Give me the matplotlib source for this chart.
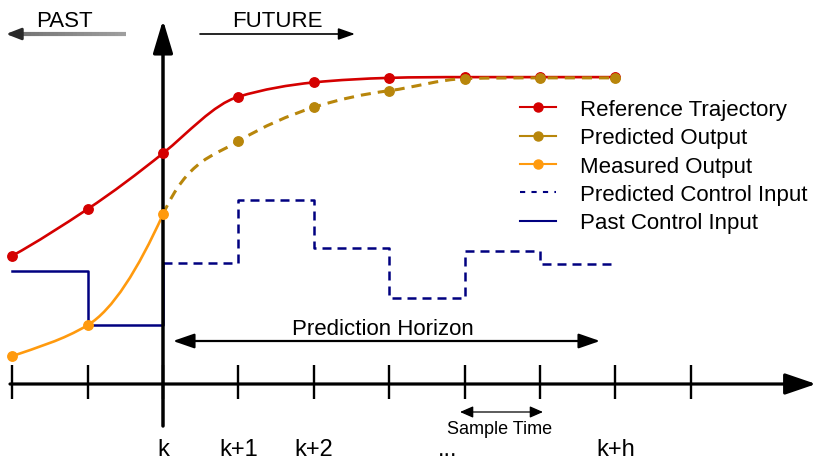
import numpy as np
import matplotlib
matplotlib.use('Agg')
import matplotlib.pyplot as plt
from matplotlib.path import Path
from matplotlib.patches import PathPatch
from matplotlib.lines import Line2D
from matplotlib.collections import LineCollection

plt.rcParams['font.family'] = ['Liberation Sans', 'DejaVu Sans']

# Data (x in sample steps relative to k, y in arbitrary output units)
steps = np.arange(-2, 8)
tick_labels = ['k', 'k+1', 'k+2', '...', 'k+h']
tick_label_pos = [0, 1, 2, 3.77, 6]

ref_t = [-2, -1, 0, 1, 2, 3, 4, 5, 6]
ref_y = [1.70, 2.32, 3.06, 3.81, 4.00, 4.06, 4.07, 4.07, 4.07]
ref_slope = [0.55, 0.66, 0.80, 0.30, 0.10, 0.03, 0.0, 0.0, 0.0]

meas_t = [-2, -1, 0]
meas_y = [0.37, 0.78, 2.25]
meas_slope = [0.35, 0.60, 2.2]

pred_t = [1, 2, 3, 4, 5, 6]
pred_y = [3.22, 3.67, 3.89, 4.05, 4.06, 4.06]
pred_slope = [0.60, 0.32, 0.13, 0.03, 0.0, 0.0]

past_u_t = [-2, -1, 0]
past_u = [1.50, 0.78, 1.60]

pred_u_t = [0, 1, 2, 3, 4, 5, 6]
pred_u = [1.60, 2.44, 1.80, 1.14, 1.76, 1.59, 1.59]

RED = '#d40000'
BROWN = '#b8860b'
ORANGE = '#ff9a0e'
NAVY = '#000080'

# pixel helpers for the diagram annotations
X0, Y0, S = 163, 385, 75.4
def px(x):
    return (x - X0) / S
def py(y):
    return (Y0 - y) / S


def hermite_path(xs, ys, slopes):
    # cubic bezier through the points with the given tangent slopes
    verts = [(xs[0], ys[0])]
    codes = [Path.MOVETO]
    for i in range(len(xs) - 1):
        d = (xs[i + 1] - xs[i]) / 3
        verts += [(xs[i] + d, ys[i] + d * slopes[i]),
                  (xs[i + 1] - d, ys[i + 1] - d * slopes[i + 1]),
                  (xs[i + 1], ys[i + 1])]
        codes += [Path.CURVE4] * 3
    return Path(verts, codes)


fig = plt.figure(figsize=(8.16, 4.6), dpi=100)
ax = fig.add_axes([0, 0, 1, 1])
ax.set_xlim(px(0), px(816))
ax.set_ylim(py(460), py(0))
ax.axis('off')


def arrow(x0, y0, x1, y1, lw, hl, hw, color='black', style='-|>'):
    ax.annotate('', xy=(x1, y1), xytext=(x0, y0), annotation_clip=False,
                arrowprops=dict(arrowstyle=f'{style},head_length={hl},head_width={hw}',
                                lw=lw, color=color, shrinkA=0, shrinkB=0,
                                mutation_scale=1), zorder=5)


# time axis and value axis
arrow(px(10), 0, px(816), 0, 2.3, 19, 6.5)
arrow(0, py(427), 0, py(21), 2.5, 20, 6)
ax.vlines(steps, py(400), py(366), color='black', lw=1.7, zorder=5)

for pos, lab in zip(tick_label_pos, tick_labels):
    ax.text(pos, py(456), lab, ha='center', va='baseline', fontsize=17)

# control inputs
ax.step(past_u_t, past_u, where='post', color=NAVY, lw=1.8, zorder=3)
ax.step(pred_u_t, pred_u, where='post', color=NAVY, lw=1.8, dashes=(3.6, 2.4), zorder=3)

# reference trajectory
ax.add_patch(PathPatch(hermite_path(ref_t, ref_y, ref_slope), fill=False,
                       edgecolor=RED, lw=1.9, zorder=4))
ax.plot(ref_t, ref_y, 'o', color=RED, ms=6.8, zorder=6)

# measured output, then predicted output continuing from k
ax.add_patch(PathPatch(hermite_path(meas_t, meas_y, meas_slope), fill=False,
                       edgecolor=ORANGE, lw=1.9, zorder=4))
ax.add_patch(PathPatch(hermite_path(meas_t[-1:] + pred_t, meas_y[-1:] + pred_y,
                                    meas_slope[-1:] + pred_slope),
                       fill=False, edgecolor=BROWN, lw=2.2, ls=(0, (3.3, 2.3)), zorder=4))
ax.plot(pred_t, pred_y, 'o', color=BROWN, ms=6.8, zorder=7)
ax.plot(meas_t, meas_y, 'o', color=ORANGE, ms=6.8, zorder=7)

# PAST / FUTURE
xs = np.linspace(px(126), px(16), 30)
segs = [[(xs[i], py(35)), (xs[i + 1], py(35))] for i in range(len(xs) - 1)]
shade = np.linspace(0.62, 0.45, len(segs))
ax.add_collection(LineCollection(segs, colors=[(g, g, g) for g in shade], lw=3.0, zorder=5))
arrow(px(20), py(35), px(6), py(35), 2.0, 9, 3.5, color='#2a2a2a')
ax.text(px(64), py(27), 'PAST', ha='center', va='baseline', fontsize=16)
arrow(px(200), py(35), px(355), py(35), 1.2, 10, 3.5)
ax.text(px(277), py(27), 'FUTURE', ha='center', va='baseline', fontsize=16)

# prediction horizon
arrow(px(173), py(342), px(600), py(342), 1.6, 13, 4.5, style='<|-|>')
ax.text(px(383), py(335), 'Prediction Horizon', ha='center', va='baseline', fontsize=16)

# sample time
arrow(px(460), py(413), px(543), py(413), 0.9, 8, 3.5, style='<|-|>')
ax.text(px(500), py(434), 'Sample Time', ha='center', va='baseline', fontsize=13)

handles = [
    Line2D([], [], color=RED, marker='o', ms=6.5, lw=1.5, label='Reference Trajectory'),
    Line2D([], [], color=BROWN, marker='o', ms=6.5, lw=1.5, label='Predicted Output'),
    Line2D([], [], color=ORANGE, marker='o', ms=6.5, lw=1.5, label='Measured Output'),
    Line2D([], [], color=NAVY, lw=1.5, dashes=(2.5, 3), label='Predicted Control Input'),
    Line2D([], [], color=NAVY, lw=1.5, label='Past Control Input'),
]
ax.legend(handles=handles, loc='upper left', bbox_to_anchor=(520 / 816, 1 - 100 / 460),
          frameon=False, fontsize=16, handlelength=1.6, handletextpad=1.1,
          labelspacing=0.33, borderpad=0, borderaxespad=0)

fig.savefig('out.png', dpi=100)
